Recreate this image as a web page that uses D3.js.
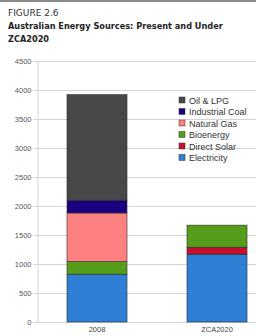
<!DOCTYPE html>
<html>
<head>
<meta charset="utf-8">
<script src="https://cdn.jsdelivr.net/npm/d3@7"></script>
<style>
  body { margin: 0; background: #fff; }
  svg { display: block; font-family: "Liberation Sans", Arial, sans-serif; }
</style>
</head>
<body>
<svg id="chart" width="256" height="336"></svg>
<script>
var categories = ["2008", "ZCA2020"];
var sources = ["Electricity", "Direct Solar", "Bioenergy", "Natural Gas", "Industrial Coal", "Oil & LPG"];
var electricity = [825, 1170];
var directSolar = [0, 120];
var bioenergy = [215, 380];
var naturalGas = [840, 0];
var industrialCoal = [220, 0];
var oilLpg = [1820, 0];
var yTicks = [0, 500, 1000, 1500, 2000, 2500, 3000, 3500, 4000, 4500];

var colors = {
  "Electricity": "#2f7fd6",
  "Direct Solar": "#c8102e",
  "Bioenergy": "#579d1c",
  "Natural Gas": "#ff8080",
  "Industrial Coal": "#1a0080",
  "Oil & LPG": "#484848"
};

var rows = categories.map(function(c, i) {
  return {
    cat: c,
    "Electricity": electricity[i],
    "Direct Solar": directSolar[i],
    "Bioenergy": bioenergy[i],
    "Natural Gas": naturalGas[i],
    "Industrial Coal": industrialCoal[i],
    "Oil & LPG": oilLpg[i]
  };
});

var svg = d3.select("#chart");

// top border strip
svg.append("rect").attr("x", 0).attr("y", 0).attr("width", 256).attr("height", 2).attr("fill", "#8a8a8a");

svg.append("text").attr("x", 8).attr("y", 16)
  .attr("font-size", 9).attr("fill", "#333").attr("font-family", "DejaVu Sans")
  .text("FIGURE 2.6");
var t1 = svg.append("text").attr("x", 8).attr("y", 28.5)
  .attr("font-size", 10.5).attr("fill", "#222").attr("font-family", "DejaVu Sans")
  .attr("font-weight", 600)
  .text("Australian Energy Sources: Present and Under");
// shrink title to the width it takes in the figure
var w = t1.node().getComputedTextLength();
var fs = Math.min(10.5, 10.5 * 215 / w);
t1.attr("font-size", fs);
svg.append("text").attr("x", 8).attr("y", 42)
  .attr("font-size", fs).attr("fill", "#222").attr("font-family", "DejaVu Sans")
  .attr("font-weight", 600)
  .text("ZCA2020");

var y = d3.scaleLinear().domain([0, 4500]).range([322, 61]);
var x = d3.scaleBand().domain(categories).range([37, 277]).paddingInner(0.5).paddingOuter(0.25);

// grid
svg.append("g").selectAll("line").data(yTicks).join("line")
  .attr("x1", 37).attr("x2", 256)
  .attr("y1", function(d) { return y(d) + 0.5; })
  .attr("y2", function(d) { return y(d) + 0.5; })
  .attr("stroke", "#d3d3d3").attr("stroke-width", 1);

var yAxis = d3.axisLeft(y).tickValues(yTicks).tickFormat(d3.format("d")).tickSize(4).tickPadding(2);
var gy = svg.append("g").attr("transform", "translate(37.5,0)").call(yAxis);
gy.select(".domain").attr("stroke", "#d3d3d3");
gy.selectAll(".tick line").attr("stroke", "#d3d3d3");
gy.selectAll(".tick text").attr("font-size", 7.5).attr("fill", "#555")
  .attr("font-family", "Liberation Sans, Arial, sans-serif");

var stack = d3.stack().keys(sources);
var series = stack(rows);

svg.append("g").selectAll("g").data(series).join("g")
  .attr("fill", function(s) { return colors[s.key]; })
  .selectAll("rect").data(function(s) { return s.filter(function(d) { return d[1] > d[0]; }); }).join("rect")
  .attr("x", function(d) { return x(d.data.cat); })
  .attr("width", x.bandwidth())
  .attr("y", function(d) { return y(d[1]); })
  .attr("height", function(d) { return y(d[0]) - y(d[1]); })
  .attr("stroke", "#2a2a2a").attr("stroke-width", 0.6);

var xAxis = d3.axisBottom(x).tickSize(0).tickPadding(5);
var gx = svg.append("g").attr("transform", "translate(0,322)").call(xAxis);
gx.select(".domain").remove();
gx.selectAll(".tick text").attr("font-size", 7.5).attr("fill", "#444")
  .attr("font-family", "Liberation Sans, Arial, sans-serif");

// legend
var legendKeys = sources.slice().reverse();
var lg = svg.append("g").selectAll("g").data(legendKeys).join("g")
  .attr("transform", function(d, i) { return "translate(179," + (97 + i * 11.5) + ")"; });
lg.append("rect").attr("x", 0).attr("y", 0).attr("width", 6).attr("height", 6)
  .attr("fill", function(d) { return colors[d]; })
  .attr("stroke", "#333").attr("stroke-width", 0.5);
lg.append("text").attr("x", 10).attr("y", 6.5)
  .attr("font-size", 9).attr("fill", "#333")
  .text(function(d) { return d; });
</script>
</body>
</html>
